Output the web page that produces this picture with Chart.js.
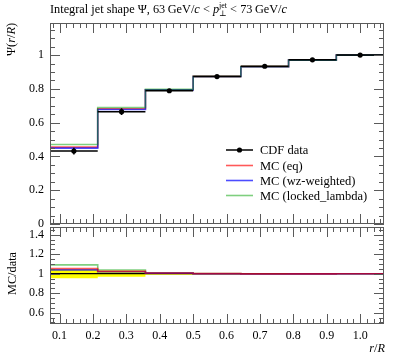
<!DOCTYPE html>
<html><head><meta charset="utf-8">
<script src="https://cdn.jsdelivr.net/npm/chart.js@4.4.1/dist/chart.umd.min.js"></script>
<style>
html,body{margin:0;padding:0;background:#fff;}
#wrap{position:relative;width:397px;height:358px;overflow:hidden;}
canvas{position:absolute;left:0;top:0;}
</style></head><body>
<div id="wrap"><canvas id="main" width="397" height="358"></canvas><canvas id="ratio" width="397" height="358"></canvas></div>
<script>
// ---------- data ----------
const binCenters = [0.1429, 0.2857, 0.4286, 0.5714, 0.7143, 0.8571, 1.0];
const binEdges   = [0.0714, 0.2143, 0.3571, 0.5, 0.6429, 0.7857, 0.9286, 1.0714];
const cdfData    = [0.432, 0.665, 0.789, 0.873, 0.934, 0.972, 1.0];
const cdfErr     = [0.020, 0.020, 0.008, 0.004, 0.003, 0.002, 0.0];
const mcEq       = [0.455, 0.682, 0.795, 0.874, 0.932, 0.970, 1.0];
const mcWz       = [0.449, 0.678, 0.794, 0.873, 0.931, 0.970, 1.0];
const mcLocked   = [0.471, 0.690, 0.797, 0.874, 0.932, 0.970, 1.0];
const seriesNames = ['CDF data', 'MC (eq)', 'MC (wz-weighted)', 'MC (locked_lambda)'];
const xTickValues = [0.1, 0.2, 0.3, 0.4, 0.5, 0.6, 0.7, 0.8, 0.9, 1.0];
const xTickLabels = ['0.1', '0.2', '0.3', '0.4', '0.5', '0.6', '0.7', '0.8', '0.9', '1.0'];
const mainYTicks  = [0, 0.2, 0.4, 0.6, 0.8, 1];
const mainYLabels = ['0', '0.2', '0.4', '0.6', '0.8', '1'];
const ratioYTicks  = [0.6, 0.8, 1, 1.2, 1.4];
const ratioYLabels = ['0.6', '0.8', '1', '1.2', '1.4'];

// ---------- styles ----------
const FONT = '"Liberation Serif", "DejaVu Serif", serif';
const colData = '#000000';
const colEq = 'rgba(255,0,0,0.65)';
const colWz = 'rgba(0,0,255,0.7)';
const colLocked = 'rgba(0,160,0,0.5)';
const colBand = '#ffff00';
const X_MIN = 0.0714, X_MAX = 1.0714;

function histPoints(vals) {
  const pts = [];
  vals.forEach((v, i) => { pts.push({x: binEdges[i], y: v}); pts.push({x: binEdges[i + 1], y: v}); });
  return pts;
}
function dataBars(vals, errs) {
  const pts = [];
  vals.forEach((v, i) => {
    pts.push({x: binEdges[i], y: v}); pts.push({x: binEdges[i + 1], y: v}); pts.push({x: binEdges[i + 1], y: null});
    if (errs[i] > 0) { pts.push({x: binCenters[i], y: v - errs[i]}); pts.push({x: binCenters[i], y: v + errs[i]}); pts.push({x: binCenters[i], y: null}); }
  });
  return pts;
}
const ratio = arr => arr.map((v, i) => v / cdfData[i]);
const bandUp = cdfData.map((v, i) => 1 + cdfErr[i] / v);
const bandLo = cdfData.map((v, i) => 1 - cdfErr[i] / v);
const ones = cdfData.map(() => 1);

function lineDs(label, pts, color, w) {
  return {type: 'line', label, data: pts, borderColor: color, borderWidth: w, pointRadius: 0, fill: false, tension: 0, spanGaps: false};
}

// rich text
function drawRich(ctx, x, y, segs, size) {
  let cx = x;
  for (const s of segs) {
    const sz = s.size || size;
    ctx.font = (s.i ? 'italic ' : '') + sz + 'px ' + FONT;
    if (s.supsub) {
      ctx.font = (s.size || 8) + 'px ' + FONT;
      const w1 = ctx.measureText(s.sup).width; ctx.fillText(s.sup, cx, y - 5);
      const w2 = ctx.measureText(s.sub).width; ctx.fillText(s.sub, cx, y + 3);
      cx += Math.max(w1, w2);
    } else {
      ctx.fillText(s.t, cx, y);
      cx += ctx.measureText(s.t).width;
    }
  }
  return cx - x;
}
function richWidth(ctx, segs, size) {
  let w = 0;
  for (const s of segs) {
    if (s.supsub) { ctx.font = (s.size || 8) + 'px ' + FONT; w += Math.max(ctx.measureText(s.sup).width, ctx.measureText(s.sub).width); }
    else { ctx.font = (s.i ? 'italic ' : '') + (s.size || size) + 'px ' + FONT; w += ctx.measureText(s.t).width; }
  }
  return w;
}

function frameTicks(yMinor, yMajor) {
  return {
    id: 'frameTicks',
    afterDatasetsDraw(chart) {
      const ctx = chart.ctx, a = chart.chartArea, xs = chart.scales.x, ys = chart.scales.y;
      ctx.save();
      ctx.strokeStyle = '#5a5a5a'; ctx.lineWidth = 1;
      ctx.beginPath();
      for (let k = Math.ceil(xs.min / 0.02 - 1e-6); k * 0.02 <= xs.max + 1e-9; k++) {
        const v = k * 0.02;
        const major = Math.abs(v * 10 - Math.round(v * 10)) < 1e-6;
        const L = major ? 10 : 5;
        const px = Math.round(xs.getPixelForValue(v)) + 0.5;
        ctx.moveTo(px, a.bottom); ctx.lineTo(px, a.bottom - L);
        ctx.moveTo(px, a.top); ctx.lineTo(px, a.top + L);
      }
      for (let k = Math.ceil(ys.min / yMinor - 1e-6); k * yMinor <= ys.max + 1e-9; k++) {
        const v = k * yMinor;
        const major = Math.abs(v / yMajor - Math.round(v / yMajor)) < 1e-6;
        const L = major ? 10 : 5;
        const py = Math.round(ys.getPixelForValue(v)) + 0.5;
        ctx.moveTo(a.left, py); ctx.lineTo(a.left + L, py);
        ctx.moveTo(a.right, py); ctx.lineTo(a.right - L, py);
      }
      ctx.stroke();
      ctx.strokeRect(Math.round(a.left) + 0.5, Math.round(a.top) + 0.5, Math.round(a.right - a.left) - 1, Math.round(a.bottom - a.top) - 1);
      ctx.restore();
    }
  };
}

const xScaleBase = {
  type: 'linear', min: X_MIN, max: X_MAX,
  afterBuildTicks: s => { s.ticks = xTickValues.map(v => ({value: v})); },
  grid: {display: false, drawTicks: false, tickLength: 0}, border: {display: false}
};

// ---------- main chart ----------
const mainDecor = {
  id: 'mainDecor',
  afterDraw(chart) {
    const ctx = chart.ctx;
    ctx.save();
    ctx.fillStyle = '#000'; ctx.textBaseline = 'alphabetic'; ctx.textAlign = 'left';
    // title
    drawRich(ctx, 50, 13, [
      {t: 'Integral jet shape \u03A8, 63\u2009GeV/'}, {t: 'c', i: true}, {t: ' < '}, {t: 'p', i: true},
      {supsub: true, sup: 'jet', sub: '\u22A5', size: 8}, {t: ' < 73\u2009GeV/'}, {t: 'c', i: true}
    ], 12.3);
    // y title
    const ySegs = [{t: '\u03A8('}, {t: 'r', i: true}, {t: '/'}, {t: 'R', i: true}, {t: ')'}];
    const W = richWidth(ctx, ySegs, 12.3);
    ctx.translate(15, 23 + W); ctx.rotate(-Math.PI / 2);
    drawRich(ctx, 0, 0, ySegs, 12.3);
    ctx.restore();
    // legend
    const ly = [150, 165.5, 180.5, 195.5];
    const cols = [colData, colEq, colWz, colLocked];
    ctx.save();
    for (let i = 0; i < 4; i++) {
      ctx.strokeStyle = cols[i]; ctx.lineWidth = i === 0 ? 1.5 : 1.6;
      ctx.beginPath(); ctx.moveTo(226, ly[i]); ctx.lineTo(253, ly[i]); ctx.stroke();
      if (i === 0) { ctx.fillStyle = '#000'; ctx.beginPath(); ctx.arc(239.5, ly[i], 2.6, 0, 2 * Math.PI); ctx.fill(); }
      ctx.fillStyle = '#000'; ctx.font = '12.5px ' + FONT; ctx.textBaseline = 'alphabetic';
      ctx.fillText(seriesNames[i], 260, ly[i] + 4);
    }
    ctx.restore();
  }
};

new Chart(document.getElementById('main'), {
  data: {
    datasets: [
      {type: 'line', label: seriesNames[0] + ' points', data: binCenters.map((x, i) => ({x, y: cdfData[i]})), showLine: false,
       pointRadius: 2.6, pointBackgroundColor: '#000', pointBorderColor: '#000', pointBorderWidth: 0},
      lineDs(seriesNames[0], dataBars(cdfData, cdfErr), colData, 1.5),
      lineDs(seriesNames[3], histPoints(mcLocked), colLocked, 1.6),
      lineDs(seriesNames[2], histPoints(mcWz), colWz, 1.6),
      lineDs(seriesNames[1], histPoints(mcEq), colEq, 1.6)
    ]
  },
  options: {
    responsive: false, animation: false, devicePixelRatio: 1,
    layout: {padding: {top: 23, right: 13, bottom: 134, left: 0}},
    plugins: {legend: {display: false}, tooltip: {enabled: false}},
    scales: {
      x: Object.assign({}, xScaleBase, {display: false}),
      y: {
        type: 'linear', min: 0, max: 1.19,
        afterBuildTicks: s => { s.ticks = mainYTicks.map(v => ({value: v})); },
        afterFit: s => { s.width = 50; },
        ticks: {padding: 6, color: '#000', font: {family: FONT, size: 12}, callback: (v) => { const i = mainYTicks.findIndex(t => Math.abs(t - v) < 1e-6); return i >= 0 ? mainYLabels[i] : ''; }},
        grid: {display: false, drawTicks: false, tickLength: 0}, border: {display: false}
      }
    }
  },
  plugins: [frameTicks(0.05, 0.2), mainDecor]
});

// ---------- ratio chart ----------
const ratioDecor = {
  id: 'ratioDecor',
  afterDraw(chart) {
    const ctx = chart.ctx;
    ctx.save();
    ctx.fillStyle = '#000'; ctx.textBaseline = 'alphabetic';
    const segs = [{t: 'MC/data'}];
    const W = richWidth(ctx, segs, 12.3);
    ctx.translate(16, 273.5 + W / 2); ctx.rotate(-Math.PI / 2);
    drawRich(ctx, 0, 0, segs, 12.3);
    ctx.restore();
    ctx.save();
    ctx.fillStyle = '#000'; ctx.textBaseline = 'alphabetic';
    const xs = [{t: 'r', i: true}, {t: '/'}, {t: 'R', i: true}];
    const Wx = richWidth(ctx, xs, 12.3);
    drawRich(ctx, 385 - Wx, 352, xs, 12.3);
    ctx.restore();
  }
};

new Chart(document.getElementById('ratio'), {
  data: {
    datasets: [
      lineDs(seriesNames[1], histPoints(ratio(mcEq)), colEq, 1.6),
      lineDs(seriesNames[2], histPoints(ratio(mcWz)), colWz, 1.6),
      lineDs(seriesNames[3], histPoints(ratio(mcLocked)), colLocked, 1.6),
      lineDs(seriesNames[0], histPoints(ones), colData, 1.2),
      Object.assign(lineDs('band up', histPoints(bandUp), 'rgba(0,0,0,0)', 0), {fill: '+1', backgroundColor: colBand}),
      lineDs('band lo', histPoints(bandLo), 'rgba(0,0,0,0)', 0)
    ]
  },
  options: {
    responsive: false, animation: false, devicePixelRatio: 1,
    layout: {padding: {top: 227, right: 13, bottom: 0, left: 0}},
    plugins: {legend: {display: false}, tooltip: {enabled: false}, filler: {propagate: false}},
    scales: {
      x: Object.assign({}, xScaleBase, {
        afterFit: s => { s.height = 34; },
        ticks: {padding: 5, color: '#000', maxRotation: 0, autoSkip: false, font: {family: FONT, size: 12},
                callback: (v) => { const i = xTickValues.findIndex(t => Math.abs(t - v) < 1e-6); return i >= 0 ? xTickLabels[i] : ''; }}
      }),
      y: {
        type: 'linear', min: 0.484, max: 1.479,
        afterBuildTicks: s => { s.ticks = ratioYTicks.map(v => ({value: v})); },
        afterFit: s => { s.width = 50; },
        ticks: {padding: 6, color: '#000', font: {family: FONT, size: 12}, callback: (v) => { const i = ratioYTicks.findIndex(t => Math.abs(t - v) < 1e-6); return i >= 0 ? ratioYLabels[i] : ''; }},
        grid: {display: false, drawTicks: false, tickLength: 0}, border: {display: false}
      }
    }
  },
  plugins: [frameTicks(0.05, 0.2), ratioDecor]
});
</script>
</body></html>
